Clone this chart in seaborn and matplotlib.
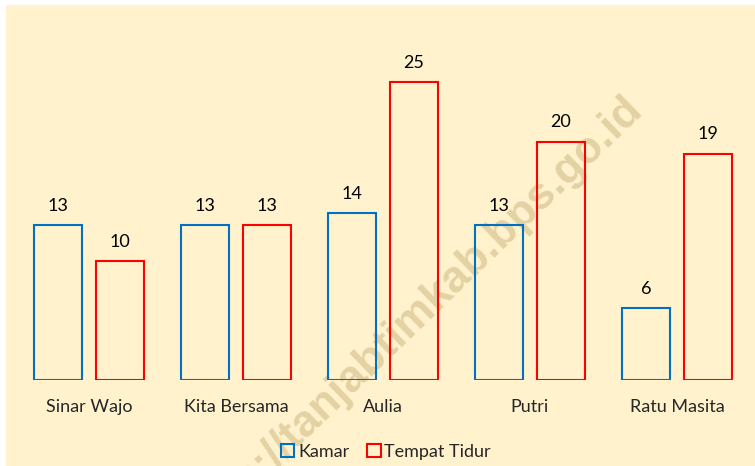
import pandas as pd
import matplotlib.pyplot as plt
import seaborn as sns
from matplotlib.patches import Patch, Rectangle
plt.switch_backend('Agg')

# data
penginapan = ["Sinar Wajo", "Kita Bersama", "Aulia", "Putri", "Ratu Masita"]
kamar = [13, 13, 14, 13, 6]
tempat_tidur = [10, 13, 25, 20, 19]
seri = ["Kamar", "Tempat Tidur"]

df = pd.DataFrame({
    "penginapan": penginapan * 2,
    "jumlah": kamar + tempat_tidur,
    "jenis": [seri[0]] * len(kamar) + [seri[1]] * len(tempat_tidur),
})

sns.set_style("white")
plt.rcParams['font.family'] = ['Lato', 'DejaVu Sans']

bg = "#FFF2CC"
blue = "#0070C0"
red = "#FF0000"

fig = plt.figure(figsize=(7.55, 4.66), dpi=100, facecolor="white")
fig.patches.append(Rectangle((6 / 755, 0), 1, 461 / 466, transform=fig.transFigure,
                             facecolor=bg, edgecolor="none", zorder=-5))

# watermark
fig.text(636 / 755, 1 - 102 / 466, "https://tanjabtimkab.bps.go.id", fontsize=32,
         fontweight="bold", family="Liberation Sans", color="#E4D2A4",
         rotation=44, rotation_mode="anchor", ha="right", va="center", zorder=-1)

ax = fig.add_axes([15.5 / 755, 86 / 466, 735 / 755, 357.6 / 466])
ax.set_facecolor("none")

sns.barplot(data=df, x="penginapan", y="jumlah", hue="jenis", palette=[blue, red],
            fill=False, width=0.837, gap=0.22, linewidth=1.5, ax=ax)

for cont in ax.containers:
    ax.bar_label(cont, fmt="%d", padding=8, fontsize=13, color="black")

ax.set_ylim(0, 30)
ax.set_xlim(-0.5, 4.5)
ax.set_xlabel("")
ax.set_ylabel("")
ax.set_yticks([])
ax.tick_params(axis="x", length=0, pad=14, labelsize=13)
for s in ax.spines.values():
    s.set_visible(False)

ax.get_legend().remove()
handles = [Patch(facecolor="none", edgecolor=blue, linewidth=1.5),
           Patch(facecolor="none", edgecolor=red, linewidth=1.5)]
fig.legend(handles, seri, loc="center", bbox_to_anchor=(386 / 755, 14 / 466), ncol=2,
           frameon=False, fontsize=13, handlelength=0.75, handleheight=0.75,
           handletextpad=0.2, columnspacing=1.0, borderpad=0)

fig.savefig("out.png", dpi=100, facecolor=fig.get_facecolor())
